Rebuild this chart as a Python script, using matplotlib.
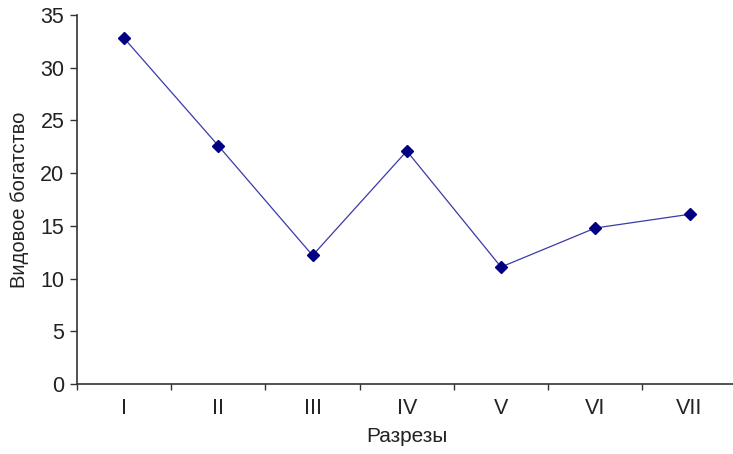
import matplotlib
matplotlib.use("Agg")
import matplotlib.pyplot as plt
import numpy as np

# Species richness per section
sections = ["I", "II", "III", "IV", "V", "VI", "VII"]
richness = [32.8, 22.6, 12.2, 22.1, 11.1, 14.8, 16.1]

plt.rcParams["font.family"] = ["Liberation Sans", "DejaVu Sans"]

fig = plt.figure(figsize=(7.33, 4.54), dpi=100)
ax = fig.add_axes([0.105, 0.154, 0.9, 0.813])

x = np.arange(len(sections))
ax.plot(x, richness, color="#3a3aa8", linewidth=0.9, marker="D",
        markersize=6.5, markerfacecolor="#000080", markeredgecolor="#000080")

ax.set_xlim(-0.5, len(sections) - 0.5)
ax.set_ylim(0, 35)
ax.set_yticks(np.arange(0, 36, 5))

# ticks on category boundaries, labels at centres
ax.set_xticks(np.arange(-0.5, len(sections), 1.0))
ax.set_xticklabels([])
ax.set_xticks(x, minor=True)
ax.set_xticklabels(sections, minor=True)
ax.tick_params(axis="x", which="minor", length=0, pad=10)
ax.tick_params(axis="x", which="major", direction="out", length=4, width=1, color="#333333")
ax.tick_params(axis="y", direction="out", length=5, width=1, color="#333333", pad=4)
ax.tick_params(which="both", labelsize=15.5, labelcolor="#222222")

for side in ("top", "right"):
    ax.spines[side].set_visible(False)
for side in ("left", "bottom"):
    ax.spines[side].set_color("#333333")
    ax.spines[side].set_linewidth(1.2)

ax.set_xlabel("Разрезы", fontsize=15, color="#222222", labelpad=6)
ax.set_ylabel("Видовое богатство", fontsize=14.5, color="#222222", labelpad=8)

fig.savefig("out.png", dpi=100)
